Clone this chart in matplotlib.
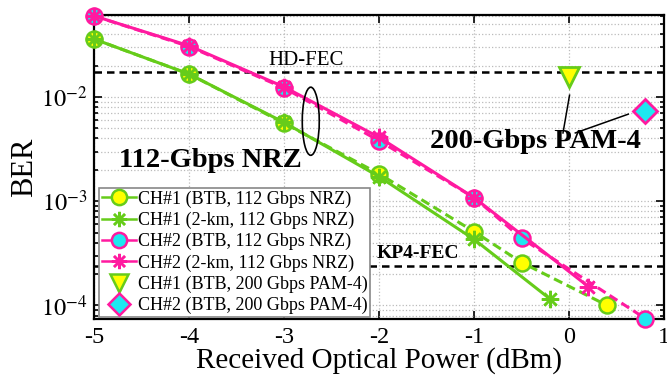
import matplotlib
matplotlib.use("Agg")
import matplotlib.pyplot as pl
from matplotlib.lines import Line2D
from matplotlib.patches import Ellipse
from matplotlib.ticker import LogLocator, FixedLocator
import numpy as np

pl.rcParams["font.family"] = ["Liberation Serif", "DejaVu Serif"]
pl.rcParams["mathtext.fontset"] = "stix"

# received optical power (dBm) and BER
powerCh1Btb = [-5, -4, -3, -2, -1, -0.5, 0.4]
berCh1Btb = [3.6e-2, 1.66e-2, 5.6e-3, 1.83e-3, 5.1e-4, 2.58e-4, 1.0e-4]
powerCh1Km = [-5, -4, -3, -2, -1, -0.2]
berCh1Km = [3.6e-2, 1.66e-2, 5.7e-3, 1.72e-3, 4.3e-4, 1.15e-4]
powerCh2Btb = [-5, -4, -3, -2, -1, -0.5, 0.8]
berCh2Btb = [6.0e-2, 3.05e-2, 1.22e-2, 3.8e-3, 1.08e-3, 4.4e-4, 7.5e-5]
powerCh2Km = [-5, -4, -3, -2, -1, 0.2]
berCh2Km = [6.0e-2, 3.1e-2, 1.25e-2, 4.1e-3, 1.08e-3, 1.52e-4]
powerPam4 = [0, 0.8]
berPam4 = [1.55e-2, 7.3e-3]

HD_FEC = 1.74e-2
KP4_FEC = 2.4e-4

labels = ["CH#1 (BTB, 112 Gbps NRZ)", "CH#1 (2-km, 112 Gbps NRZ)",
	"CH#2 (BTB, 112 Gbps NRZ)", "CH#2 (2-km, 112 Gbps NRZ)",
	"CH#1 (BTB, 200 Gbps PAM-4)", "CH#2 (BTB, 200 Gbps PAM-4)"]

GREEN = "#66cc1a"
YELLOW = "#ffff00"
PINK = "#ff1aa0"
CYAN = "#1ee8f0"
ASTERISK = (8, 2, 0)

figure = pl.figure(figsize=(6.67, 3.79), dpi=100)
axes = figure.add_axes([0.141, 0.158, 0.855, 0.802])

circleStyle = dict(marker="o", markersize=11.5, markeredgewidth=1.8, linewidth=2.2, clip_on=False)
starStyle = dict(marker=ASTERISK, markersize=12.5, markeredgewidth=1.8, linewidth=2.2, clip_on=False)

axes.plot(powerCh1Btb, berCh1Btb, linestyle=(0, (3, 1.6)), color=GREEN, markerfacecolor=YELLOW,
	markeredgecolor=GREEN, zorder=3, **circleStyle)
axes.plot(powerCh2Btb, berCh2Btb, linestyle=(0, (3, 1.6)), color=PINK, markerfacecolor=CYAN,
	markeredgecolor=PINK, zorder=3, **circleStyle)
axes.plot(powerCh1Km, berCh1Km, linestyle="-", color=GREEN, zorder=4, **starStyle)
axes.plot(powerCh2Km, berCh2Km, linestyle="-", color=PINK, zorder=4, **starStyle)
axes.plot(powerPam4[0], berPam4[0], linestyle="none", marker="v", markersize=15,
	markerfacecolor=YELLOW, markeredgecolor=GREEN, markeredgewidth=2, zorder=4)
axes.plot(powerPam4[1], berPam4[1], linestyle="none", marker="D", markersize=12,
	markerfacecolor=CYAN, markeredgecolor=PINK, markeredgewidth=2, zorder=4)

axes.axhline(HD_FEC, color="k", linestyle=(0, (3, 2)), linewidth=1.8, zorder=2)
axes.axhline(KP4_FEC, color="k", linestyle=(0, (3, 2)), linewidth=1.8, zorder=2)

axes.set_yscale("log")
axes.set_xlim(-5, 1)
axes.set_ylim(7.4e-5, 0.061)
axes.set_xticks([-5, -4, -3, -2, -1, 0, 1])
axes.set_xticklabels(["-5", "-4", "-3", "-2", "-1", "0", "1"])
axes.yaxis.set_major_locator(FixedLocator([1e-4, 1e-3, 1e-2]))
axes.yaxis.set_minor_locator(LogLocator(base=10, subs=np.arange(2, 10), numticks=20))
axes.set_yticklabels([r"$10^{-4}$", r"$10^{-3}$", r"$10^{-2}$"])

axes.tick_params(which="both", direction="in", top=True, right=True, labelsize=17.5, width=1.2)
axes.tick_params(which="major", length=6)
axes.tick_params(axis="x", which="major", pad=6)
axes.tick_params(axis="y", which="major", pad=5)
axes.tick_params(which="minor", length=3)
for spine in axes.spines.values():
	spine.set_linewidth(1.6)

axes.grid(which="major", axis="x", linestyle=":", color="#bbbbbb", linewidth=0.9)
axes.grid(which="both", axis="y", linestyle=":", color="#bbbbbb", linewidth=0.9)
axes.set_axisbelow(True)

axes.set_xlabel("Received Optical Power (dBm)", fontsize=21, labelpad=-1)
axes.set_ylabel("BER", fontsize=22, labelpad=1)

axes.text(0.372, 0.852, "HD-FEC", transform=axes.transAxes, fontsize=15,
	ha="center", va="center")
axes.text(0.5675, 0.215, "KP4-FEC", transform=axes.transAxes, fontsize=14,
	fontweight="bold", ha="center", va="center")
axes.text(0.2035, 0.523, "112-Gbps NRZ", transform=axes.transAxes, fontsize=20.5,
	fontweight="bold", ha="center", va="center")
axes.text(0.7737, 0.585, "200-Gbps PAM-4", transform=axes.transAxes, fontsize=20.5,
	fontweight="bold", ha="center", va="center")

axes.add_patch(Ellipse((0.380, 0.651), 0.0298, 0.224, transform=axes.transAxes,
	fill=False, edgecolor="k", linewidth=1.2, zorder=5))
axes.plot([0.8223, 0.8338], [0.6125, 0.7368], transform=axes.transAxes, color="k", linewidth=1.1)
axes.plot([0.8439, 0.9368], [0.6125, 0.6743], transform=axes.transAxes, color="k", linewidth=1.1)

handles = [
	Line2D([], [], color=GREEN, marker="o", markersize=11, markerfacecolor=YELLOW,
		markeredgecolor=GREEN, markeredgewidth=1.8, linewidth=1.8),
	Line2D([], [], color=GREEN, marker=ASTERISK, markersize=11, markeredgewidth=1.8, linewidth=1.8),
	Line2D([], [], color=PINK, marker="o", markersize=11, markerfacecolor=CYAN,
		markeredgecolor=PINK, markeredgewidth=1.8, linewidth=1.8),
	Line2D([], [], color=PINK, marker=ASTERISK, markersize=11, markeredgewidth=1.8, linewidth=1.8),
	Line2D([], [], linestyle="none", marker="v", markersize=13, markerfacecolor=YELLOW,
		markeredgecolor=GREEN, markeredgewidth=1.8),
	Line2D([], [], linestyle="none", marker="D", markersize=11, markerfacecolor=CYAN,
		markeredgecolor=PINK, markeredgewidth=1.8),
]
legend = axes.legend(handles, labels, loc="lower left", bbox_to_anchor=(0.009, 0.007),
	borderaxespad=0, fontsize=13, fancybox=False, framealpha=1, edgecolor="#888888",
	handlelength=1.9, handletextpad=0.1, labelspacing=0.22, borderpad=0.15)
legend.get_frame().set_linewidth(1.2)
legend.set_zorder(6)

figure.savefig("out.png", dpi=100)
